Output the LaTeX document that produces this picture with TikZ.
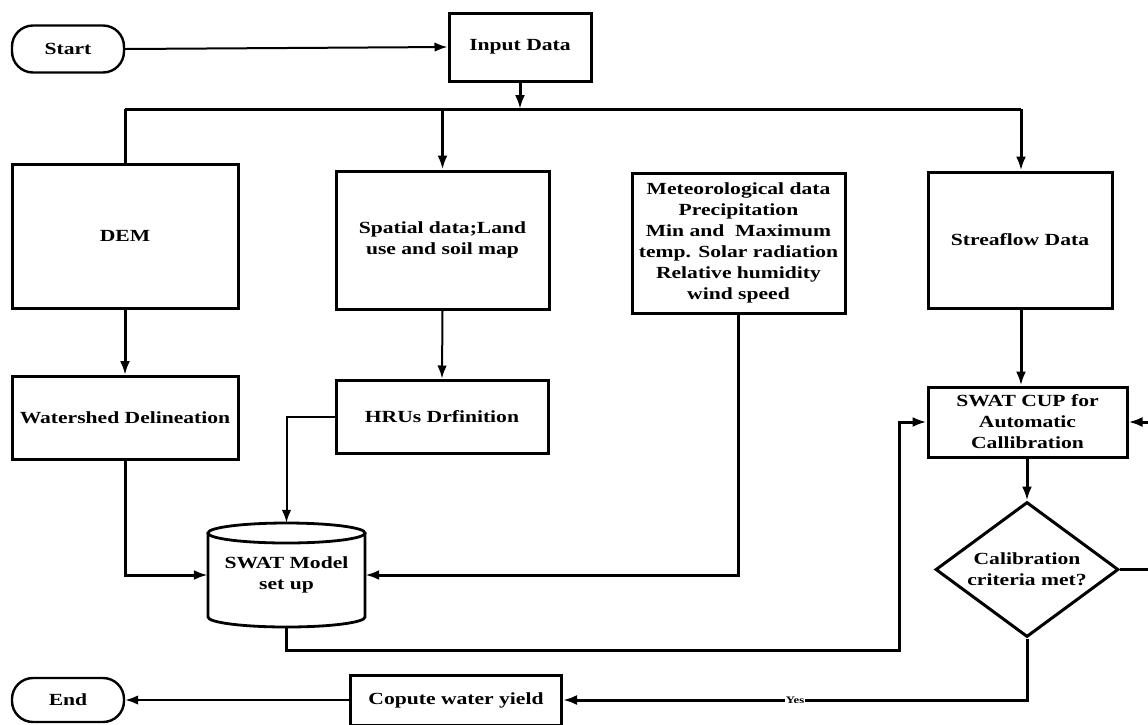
\documentclass[tikz,border=0pt]{standalone}
\usepackage{fontspec}
\setmainfont{Liberation Serif}[FakeStretch=1.27]
\usetikzlibrary{arrows.meta,shapes.geometric}
\begin{document}
\begin{tikzpicture}[x=1pt,y=-1pt,
  txt/.style={font=\fontsize{17}{21}\selectfont\bfseries, align=center},
  box/.style={txt, draw, line width=3pt, inner sep=2pt},
  term/.style={box, rounded corners=21pt, line width=2.4pt},
  conn/.style={line width=3pt},
  arr/.style={conn, -{Latex[length=14pt,width=10pt]}},
  thinln/.style={line width=2pt, -{Latex[length=13pt,width=9.5pt]}}
]
\useasboundingbox[fill=white] (0,0) rectangle (1148,724);

% nodes
\node[term, minimum width=112, minimum height=47] (start) at (68,49) {Start};
\node[box, minimum width=142, minimum height=68] (input) at (520,47) {Input Data};
\node[box, minimum width=226, minimum height=144] (dem) at (125,236) {DEM};
\node[box, minimum width=213, minimum height=138] (spatial) at (442.5,240) {Spatial data;Land\\use and soil map};
\node[box, minimum width=213, minimum height=140] (meteo) at (738.5,243) {Meteorological data\\Precipitation\\Min and\ \ Maximum\\temp. Solar radiation\\Relative humidity\\wind speed};
\node[box, minimum width=184, minimum height=136] (stream) at (1020,240) {Streaflow Data};
\node[box, minimum width=226, minimum height=83] (water) at (125,418) {Watershed Delineation};
\node[box, minimum width=212, minimum height=73] (hru) at (442,416.5) {HRUs Drfinition};
\node[txt, minimum width=157, minimum height=104, inner sep=0pt] (swat) at (286.5,575) {SWAT Model\\set up};
\node[box, minimum width=199, minimum height=70] (cup) at (1027.5,422) {SWAT CUP for\\Automatic\\Callibration};
\node[box, diamond, aspect=1.36, minimum width=183, minimum height=135, inner sep=0pt] (dia) at (1027,569.5) {Calibration\\criteria met?};
\node[box, minimum width=211, minimum height=50] (copute) at (456,700) {Copute water yield};
\node[term, minimum width=112, minimum height=44] (end) at (68,700) {End};

% cylinder outline
\draw[line width=2.8pt] (208,533) -- (208,617) arc[start angle=180, end angle=360, x radius=78.5pt, y radius=10pt] -- (365,533);
\draw[line width=2.8pt] (286.5,533) ellipse [x radius=78.5pt, y radius=10pt];

% coordinates
\coordinate (jl) at (125,109);
\coordinate (jr) at (1021,109);
\coordinate (jm) at (520,109);
\coordinate (b1) at (899,650);
\coordinate (r1) at (1170,569.5);
\coordinate (r2) at (1170,422);

% connectors
\draw[thinln] (start.east) -- (input.west);
\draw[arr] (input.south) -- (jm);
\draw[conn] (jl) -- (jr);
\draw[conn] (jl) -- (dem.north);
\draw[arr] (spatial.north |- jl) -- (spatial.north);
\draw[arr] (jr) -- (jr |- stream.north);
\draw[arr] (dem.south) -- (water.north);
\draw[thinln] (spatial.south) -- (hru.north);
\draw[arr] (water.south) |- (swat.west);
\draw[thinln] (hru.west) -| (swat.north);
\draw[arr] (meteo.south) |- (swat.east);
\draw[arr] (swat.south) |- (b1) |- (cup.west);
\draw[arr] (jr |- stream.south) -- (jr |- cup.north);
\draw[arr] (cup.south -| dia.north) -- (dia.north);
\draw[arr] (dia.south) |- (copute.east) node[pos=0.75, fill=white, inner sep=1pt, font=\fontsize{10}{12}\selectfont\bfseries] {Yes};
\draw[thinln] (copute.west) -- (end.east);
\draw[conn] (dia.east) -- (r1) -- (r2);
\draw[arr] (r2) -- (cup.east);
\end{tikzpicture}
\end{document}
